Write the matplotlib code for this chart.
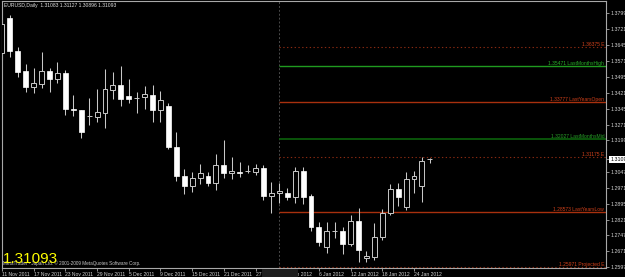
import matplotlib
matplotlib.use("Agg")
import matplotlib.pyplot as plt
from matplotlib.patches import Rectangle

# EURUSD daily, 11 Nov 2011 - 25 Jan 2012
opens = [1.3609, 1.3776, 1.3619, 1.3524, 1.3449, 1.3463, 1.3524, 1.3486, 1.3515, 1.3345,
         1.3340, 1.3312, 1.3307, 1.3326, 1.3434, 1.3458, 1.3406, 1.3397, 1.3401, 1.3411,
         1.3340, 1.3359, 1.3165, 1.3029, 1.2980, 1.3018, 1.3028, 1.2995, 1.3080, 1.3042,
         1.3047, 1.3051, 1.3047, 1.3066, 1.2933, 1.2947, 1.2947, 1.2928, 1.3051, 1.2933,
         1.2786, 1.2692, 1.2768, 1.2768, 1.2706, 1.2815, 1.2640, 1.2645, 1.2739, 1.2853,
         1.2966, 1.2881, 1.3013, 1.2980, 1.31083]
highs = [1.3752, 1.3789, 1.3638, 1.3557, 1.3539, 1.3614, 1.3539, 1.3567, 1.3529, 1.3411,
         1.3342, 1.3397, 1.3439, 1.3534, 1.3520, 1.3548, 1.3486, 1.3425, 1.3453, 1.3458,
         1.3430, 1.3373, 1.3236, 1.3061, 1.3047, 1.3084, 1.3047, 1.3132, 1.3198, 1.3118,
         1.3094, 1.3080, 1.3084, 1.3080, 1.2999, 1.2995, 1.2971, 1.3070, 1.3070, 1.2943,
         1.2810, 1.2810, 1.2810, 1.2786, 1.2843, 1.2876, 1.2673, 1.2805, 1.2872, 1.2990,
         1.2994, 1.3047, 1.3051, 1.3118, 1.31127]
lows = [1.3576, 1.3590, 1.3496, 1.3425, 1.3420, 1.3444, 1.3425, 1.3468, 1.3316, 1.3312,
        1.3207, 1.3269, 1.3283, 1.3255, 1.3392, 1.3359, 1.3373, 1.3326, 1.3345, 1.3283,
        1.3283, 1.3155, 1.3005, 1.2942, 1.2952, 1.2990, 1.2980, 1.2961, 1.3018, 1.3013,
        1.3023, 1.3042, 1.3032, 1.2914, 1.2853, 1.2900, 1.2914, 1.2900, 1.2895, 1.2768,
        1.2697, 1.2663, 1.2734, 1.2659, 1.2697, 1.2621, 1.2621, 1.2630, 1.2725, 1.2843,
        1.2886, 1.2867, 1.2947, 1.2905, 1.30896]
closes = [1.3747, 1.3620, 1.3520, 1.3449, 1.3468, 1.3524, 1.3486, 1.3515, 1.3345, 1.3340,
          1.3236, 1.3312, 1.3330, 1.3439, 1.3458, 1.3392, 1.3392, 1.3397, 1.3416, 1.3340,
          1.3387, 1.3165, 1.3029, 1.2980, 1.3018, 1.3042, 1.2995, 1.3080, 1.3042, 1.3051,
          1.3042, 1.3051, 1.3066, 1.2933, 1.2947, 1.2957, 1.2928, 1.3051, 1.2928, 1.2786,
          1.2715, 1.2768, 1.2768, 1.2706, 1.2815, 1.2678, 1.2649, 1.2739, 1.2853, 1.2966,
          1.2928, 1.3013, 1.3028, 1.3099, 1.31093]

date_ticks = [0, 4, 8, 12, 16, 20, 24, 28, 32, 36, 40, 44, 48, 52]
date_labels = ["11 Nov 2011", "17 Nov 2011", "23 Nov 2011", "29 Nov 2011", "5 Dec 2011",
               "9 Dec 2011", "15 Dec 2011", "21 Dec 2011", "27 Dec 2011", "2 Jan 2012",
               "6 Jan 2012", "12 Jan 2012", "18 Jan 2012", "24 Jan 2012"]

price_ticks = [1.37990, 1.37210, 1.36450, 1.35710, 1.34950, 1.34210, 1.33450, 1.32710,
               1.31990, 1.31093, 1.30470, 1.29710, 1.28950, 1.28210, 1.27470, 1.26710, 1.25970]

level_values = [1.36375, 1.35471, 1.33777, 1.32027, 1.31175, 1.28573, 1.25971]
level_names = ["E", "LastMonthsHigh", "LastYearsOpen", "LastMonthsMid", "E",
               "LastYearsLow", "Projected E"]
level_kinds = ["proj", "mhigh", "year", "mmid", "proj", "year", "proj"]
level_start = 35

last_price = 1.31093

line_style = {
    "proj": dict(color="#8a2a12", ls=(0, (1.2, 2.2)), lw=0.8),
    "mhigh": dict(color="#1f9a1f", ls="-", lw=1.0),
    "mmid": dict(color="#0b5a0b", ls="-", lw=1.3),
    "year": dict(color="#a8300e", ls="-", lw=1.0),
}
label_color = {"proj": "#d0401a", "mhigh": "#28b028", "mmid": "#28a028", "year": "#d0401a"}

W, H = 625, 277
fig = plt.figure(figsize=(W / 100, H / 100), dpi=100, facecolor="black")
ax = fig.add_axes([2 / W, 9 / H, 604 / W, 267 / H], facecolor="black")

font = "Liberation Sans"
grey = "#a8a8a8"

# candles
n = len(opens)
xs = list(range(n))
ax.vlines(xs, lows, highs, color="#c8c8c8", lw=0.75, zorder=2)
for i in xs:
    o, c = opens[i], closes[i]
    bottom = min(o, c)
    height = max(abs(c - o), 0.00012)
    if c >= o:
        ax.bar(i, height, bottom=bottom, width=0.62, color="black",
               edgecolor="#c8c8c8", lw=0.7, zorder=3)
    else:
        ax.bar(i, height, bottom=bottom, width=0.62, color="white",
               edgecolor="white", lw=0.5, zorder=3)

ax.set_xlim(0.063, 76.23)
ax.set_ylim(1.25924, 1.38554)

# separator
ax.axvline(level_start, color="#4a4a4a", ls=(0, (2, 2)), lw=0.7, zorder=1)

# levels
for val, name, kind in zip(level_values, level_names, level_kinds):
    ax.hlines(val, level_start, 76.23, zorder=1, **line_style[kind])
    ax.text(76.0, val, f"{val:.5f} {name}", ha="right", va="bottom",
            fontsize=3.6, family=font, color=label_color[kind], zorder=4)

# axes styling
for s in ax.spines.values():
    s.set_color(grey)
    s.set_linewidth(0.8)

ax.yaxis.tick_right()
ax.set_yticks(price_ticks)
ax.set_yticklabels([f"{v:.5f}" for v in price_ticks])
ax.tick_params(axis="y", colors=grey, labelcolor="#d0d0d0", labelsize=3.8,
               length=2, width=0.6, pad=1)
for lab in ax.get_yticklabels():
    lab.set_family(font)
    if lab.get_text() == f"{last_price:.5f}":
        lab.set_color("black")
        lab.set_bbox(dict(facecolor="white", edgecolor="none", pad=0.6))

ax.set_xticks(date_ticks)
ax.set_xticklabels(date_labels, ha="left")
ax.tick_params(axis="x", colors=grey, labelcolor="#d0d0d0", labelsize=3.6,
               length=2, width=0.6, pad=0.8)
for lab in ax.get_xticklabels():
    lab.set_family(font)

# box hiding part of the date axis
fig.patches.append(Rectangle((262 / W, 0), 36 / W, 8 / H, transform=fig.transFigure,
                             facecolor="#1e1e1e", edgecolor="none", zorder=5))

fig.text(4 / W, 1 - 7.5 / H, "EURUSD,Daily  1.31083 1.31127 1.30896 1.31093",
         color="#e0e0e0", fontsize=3.6, family=font, va="baseline")
fig.text(3 / W, 1 - 265.5 / H,
         "MetaTrader - Japan Ltd. \u00a9 2001-2009 MetaQuotes Software Corp.",
         color="#c8c8c8", fontsize=3.3, family=font, va="baseline")
fig.text(2.5 / W, 1 - 263 / H, f"{last_price:.5f}", color="#ffff00",
         fontsize=11, family=font, va="baseline")

fig.savefig("out.png", dpi=100, facecolor="black")
